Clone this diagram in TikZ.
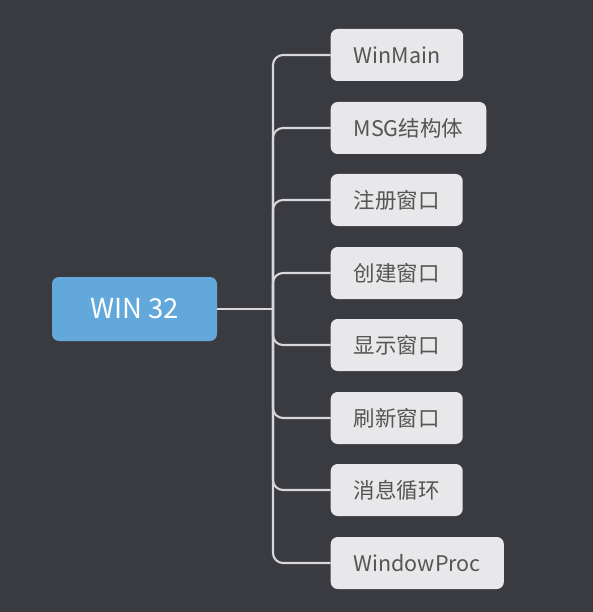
\documentclass[tikz,border=0pt]{standalone}
\usepackage{fontspec}
\setmainfont{Noto Sans CJK SC}
\usepackage{xcolor}
\definecolor{bgdark}{HTML}{3A3B40}
\definecolor{rootblue}{HTML}{62A8DA}
\definecolor{leafgray}{HTML}{E8E8EA}
\definecolor{leaftext}{HTML}{555555}
\definecolor{wire}{HTML}{D8D8DA}

\begin{document}
\begin{tikzpicture}[x=1pt,y=-1pt,
        root/.style={fill=rootblue,text=white,rounded corners=7pt,minimum width=165pt,minimum height=64pt,font=\fontsize{27.5}{30}\selectfont},
        leaf/.style={fill=leafgray,text=leaftext,rounded corners=7pt,anchor=west,minimum height=52pt,inner xsep=23pt,font=\fontsize{21.5}{24}\selectfont},
        wire/.style={draw=wire,line width=2.1pt,rounded corners=10pt}]
        \fill[bgdark] (0,0) rectangle (593,612);
        \useasboundingbox (0,0) rectangle (593,612);
        \node[root](win) at (134.5,309) {WIN 32};
        \coordinate(hub) at (273,309);
        \node[leaf](winmain) at (330.5,55) {WinMain};
        \node[leaf](msg) at (330.5,128) {MSG结构体};
        \node[leaf](reg) at (330.5,200) {注册窗口};
        \node[leaf](create) at (330.5,273) {创建窗口};
        \node[leaf](show) at (330.5,345) {显示窗口};
        \node[leaf](update) at (330.5,418) {刷新窗口};
        \node[leaf](loop) at (330.5,490) {消息循环};
        \node[leaf](proc) at (330.5,563) {WindowProc};
        \draw[wire](win)--(hub);
        \foreach \c in {winmain,msg,reg,create,show,update,loop,proc}
            \draw[wire](hub)|-(\c.west);
        \end{tikzpicture}
\end{document}
